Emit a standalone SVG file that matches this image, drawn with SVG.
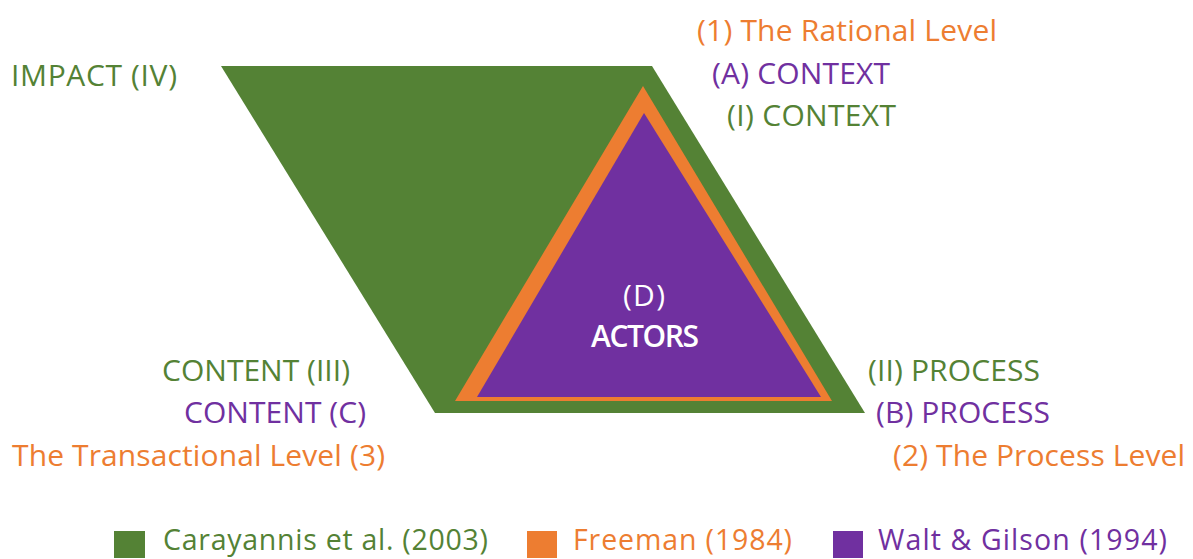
<svg xmlns="http://www.w3.org/2000/svg" width="1193" height="559" viewBox="0 0 1193 559">
<style>
text{font-family:"Open Sans",Lato,"Liberation Sans",sans-serif;font-size:30px}
.lg{font-size:28.5px}
.g{fill:#548235}.o{fill:#ED7D31}.p{fill:#7030A0}.w{fill:#FFFFFF}
</style>
<rect width="1193" height="559" fill="#FFFFFF"/>
<g id="carayannis-parallelogram"><polygon class="g" points="221,66 652,66 865,413 435,413"/></g>
<g id="freeman-triangle"><polygon class="o" points="643,86 832,401 455,401"/></g>
<g id="walt-gilson-triangle"><polygon class="p" points="644,113 821,397 477,397"/></g>
<g id="actors-label">
<text class="w" x="644" y="306" text-anchor="middle" textLength="42">(D)</text>
<text class="w" x="645" y="347" text-anchor="middle" textLength="108" font-weight="600">ACTORS</text>
</g>
<g id="top-labels">
<text class="o" x="697" y="41" textLength="300">(1) The Rational Level</text>
<text class="p" x="712" y="84" textLength="178">(A) CONTEXT</text>
<text class="g" x="727" y="126" textLength="169">(I) CONTEXT</text>
</g>
<g id="impact-label"><text class="g" x="11" y="86" textLength="166">IMPACT (IV)</text></g>
<g id="left-labels">
<text class="g" x="162" y="381" textLength="188">CONTENT (III)</text>
<text class="p" x="184" y="423" textLength="182">CONTENT (C)</text>
<text class="o" x="12" y="466" textLength="373">The Transactional Level (3)</text>
</g>
<g id="right-labels">
<text class="g" x="868" y="381" textLength="172">(II) PROCESS</text>
<text class="p" x="876" y="423" textLength="174">(B) PROCESS</text>
<text class="o" x="893" y="466" textLength="292">(2) The Process Level</text>
</g>
<g id="legend">
<rect class="g" x="114" y="531" width="31" height="27"/>
<text class="g lg" x="163" y="550" textLength="325">Carayannis et al. (2003)</text>
<rect class="o" x="527" y="531" width="30" height="27"/>
<text class="o lg" x="573" y="550" textLength="219">Freeman (1984)</text>
<rect class="p" x="833" y="531" width="30" height="27"/>
<text class="p lg" x="878" y="550" textLength="289">Walt &amp; Gilson (1994)</text>
</g>
<g id="connectors"/>
</svg>
